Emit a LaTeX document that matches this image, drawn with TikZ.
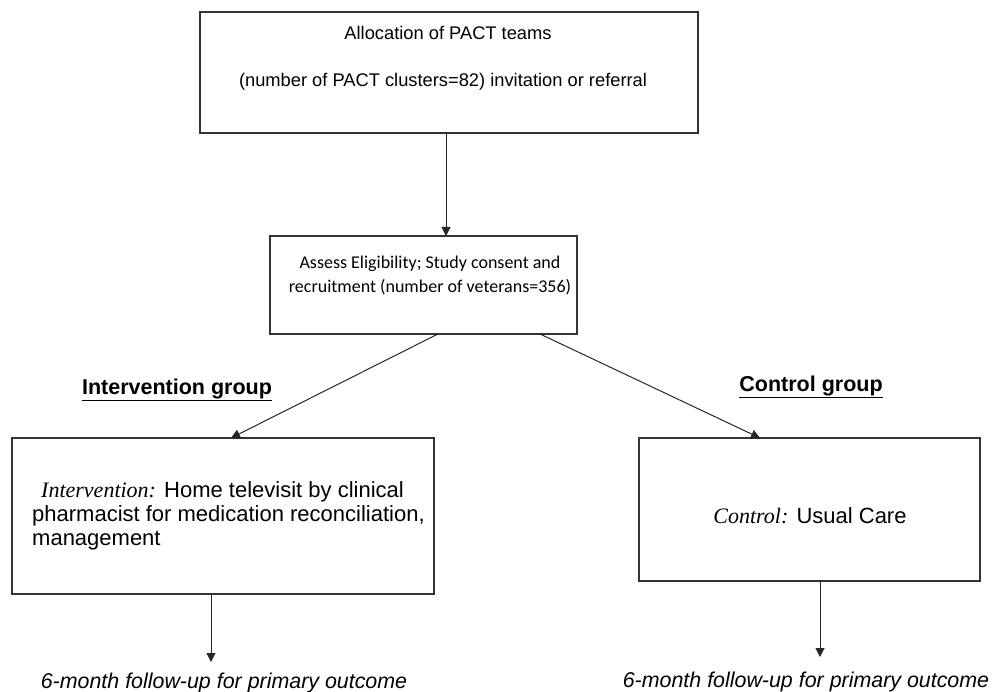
\documentclass[tikz,border=0pt]{standalone}
\usepackage{fontspec}
\setmainfont{Liberation Sans}
\newfontfamily\carl{Carlito}
\newfontfamily\tnr{Liberation Serif}
\usetikzlibrary{arrows.meta,calc}
\begin{document}
\begin{tikzpicture}[x=1pt,y=-1pt,
  box/.style={draw=black!80,line width=1.1pt,inner sep=0pt,outer sep=0pt},
  arr/.style={draw=black!85,line width=1pt,-{Triangle[width=9pt,length=9pt]}},
  txt/.style={inner sep=0pt,anchor=base},
  topfont/.style={font=\fontsize{18.3}{22}\selectfont},
  carlfont/.style={font=\carl\fontsize{18}{22}\selectfont},
  boxfont/.style={font=\fontsize{22}{26}\selectfont},
  grpfont/.style={font=\bfseries\fontsize{21.5}{25}\selectfont},
  fufont/.style={font=\itshape\fontsize{21.4}{25}\selectfont},
]
\useasboundingbox (0,0) rectangle (992,692);

% boxes
\node[box,minimum width=498pt,minimum height=121pt] (alloc) at (449,72.5) {};
\node[box,minimum width=307pt,minimum height=98pt] (assess) at (423.5,285) {};
\node[box,minimum width=422pt,minimum height=156pt] (ibox) at (223,516) {};
\node[box,minimum width=341pt,minimum height=143pt] (cbox) at (809.5,509.5) {};

% texts
\node[txt,topfont] (a1) at (448,40) {Allocation of PACT teams};
\node[txt,topfont] (a2) at (443,87) {(number of PACT clusters=82) invitation or referral};
\node[txt,carlfont] (s1) at (430,269) {Assess Eligibility; Study consent and};
\node[txt,carlfont] (s2) at (430,293) {recruitment (number of veterans=356)};

\node[txt,grpfont,anchor=base] (ig) at (177,394) {\underline{Intervention group}};
\node[txt,grpfont,anchor=base] (cg) at (811,391) {\underline{Control group}};

\node[txt,boxfont,anchor=base west] (i1) at (41,497) {{\tnr\itshape Intervention:} Home televisit by clinical};
\node[txt,boxfont,anchor=base west] (i2) at (32,521) {pharmacist for medication reconciliation,};
\node[txt,boxfont,anchor=base west] (i3) at (32,545) {management};

\node[txt,boxfont] (c1) at (810,523) {{\tnr\itshape Control:} Usual Care};

\node[txt,fufont] (fu1) at (224,688) {6-month follow-up for primary outcome};
\node[txt,fufont] (fu2) at (806,687) {6-month follow-up for primary outcome};

% connectors
\draw[arr] ([xshift=-3pt]alloc.south) -- ([xshift=-3pt]alloc.south |- assess.north);
\draw[arr] ([xshift=168pt]assess.south west) -- ([xshift=219pt]ibox.north west);
\draw[arr] ([xshift=270pt]assess.south west) -- ([xshift=121pt]cbox.north west);
\coordinate (fu1top) at (211,662);
\coordinate (fu2top) at (820,657);
\draw[arr] ([xshift=199pt]ibox.south west) -- (fu1top);
\draw[arr] ([xshift=181pt]cbox.south west) -- (fu2top);
\end{tikzpicture}
\end{document}
